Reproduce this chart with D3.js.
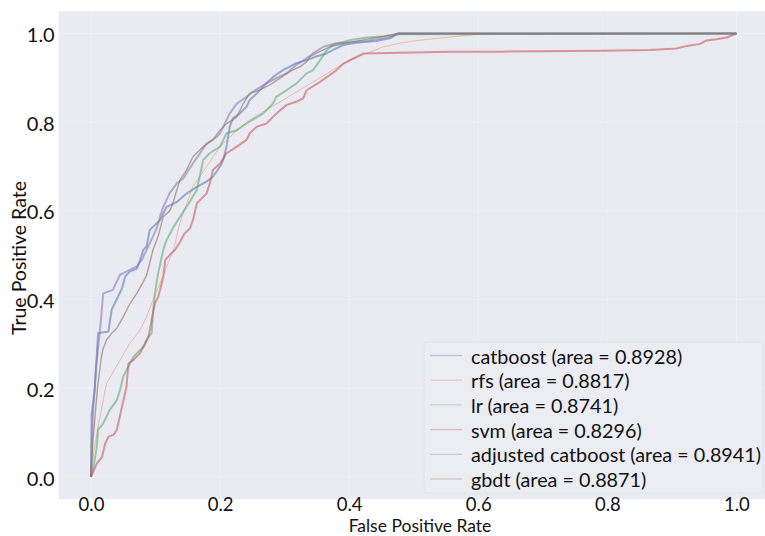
<!DOCTYPE html>
<html>
<head>
<meta charset="utf-8">
<script src="https://cdn.jsdelivr.net/npm/d3@7"></script>
<style>
  html, body { margin: 0; padding: 0; background: #ffffff; }
  svg { display: block; }
  text { font-family: Lato, "Open Sans", sans-serif; fill: #111; }
</style>
</head>
<body>
<svg id="chart" width="765" height="536"></svg>
<script>
// ---------------- data ----------------
const seriesNames = ["catboost", "rfs", "lr", "svm", "adjusted catboost", "gbdt"];
const seriesAuc = ["0.8928", "0.8817", "0.8741", "0.8296", "0.8941", "0.8871"];
const xTicks = [0.0, 0.2, 0.4, 0.6, 0.8, 1.0];
const yTicks = [0.0, 0.2, 0.4, 0.6, 0.8, 1.0];

const catboostFpr = [0, 0.001, 0.006, 0.011, 0.027, 0.032, 0.042, 0.048, 0.053, 0.060, 0.071, 0.076, 0.081, 0.086, 0.091, 0.096, 0.107, 0.117, 0.133, 0.148, 0.164, 0.179, 0.189, 0.200, 0.205, 0.210, 0.215, 0.220, 0.231, 0.241, 0.246, 0.257, 0.272, 0.283, 0.298, 0.308, 0.318, 0.334, 0.349, 0.365, 0.375, 0.391, 0.411, 0.442, 0.463, 0.476, 1.0];
const catboostTpr = [0, 0.14, 0.20, 0.324, 0.328, 0.377, 0.407, 0.425, 0.452, 0.463, 0.470, 0.489, 0.512, 0.519, 0.557, 0.564, 0.579, 0.609, 0.620, 0.639, 0.654, 0.666, 0.677, 0.700, 0.715, 0.745, 0.790, 0.809, 0.820, 0.835, 0.850, 0.865, 0.888, 0.903, 0.918, 0.925, 0.933, 0.940, 0.948, 0.955, 0.963, 0.974, 0.979, 0.983, 0.989, 1.0, 1.0];

const rfsFpr = [0, 0.004, 0.011, 0.024, 0.042, 0.060, 0.076, 0.086, 0.096, 0.107, 0.117, 0.128, 0.138, 0.158, 0.179, 0.200, 0.226, 0.246, 0.272, 0.298, 0.324, 0.349, 0.375, 0.401, 0.427, 0.453, 0.479, 0.504, 0.556, 0.600, 1.0];
const rfsTpr = [0, 0.053, 0.113, 0.211, 0.256, 0.301, 0.331, 0.361, 0.399, 0.436, 0.474, 0.512, 0.575, 0.655, 0.700, 0.745, 0.782, 0.805, 0.828, 0.850, 0.873, 0.895, 0.918, 0.940, 0.955, 0.970, 0.978, 0.984, 0.992, 0.998, 1.0];

const lrFpr = [0, 0.004, 0.009, 0.011, 0.019, 0.029, 0.040, 0.045, 0.050, 0.055, 0.066, 0.073, 0.081, 0.089, 0.094, 0.096, 0.099, 0.104, 0.112, 0.117, 0.128, 0.138, 0.148, 0.164, 0.174, 0.184, 0.200, 0.210, 0.226, 0.241, 0.267, 0.282, 0.287, 0.303, 0.318, 0.334, 0.344, 0.355, 0.365, 0.375, 0.401, 0.427, 0.453, 0.479, 1.0];
const lrTpr = [0, 0.023, 0.068, 0.106, 0.121, 0.151, 0.173, 0.196, 0.226, 0.241, 0.271, 0.282, 0.293, 0.316, 0.324, 0.369, 0.414, 0.459, 0.512, 0.534, 0.564, 0.587, 0.609, 0.647, 0.715, 0.730, 0.745, 0.775, 0.782, 0.797, 0.820, 0.842, 0.857, 0.872, 0.887, 0.910, 0.917, 0.940, 0.962, 0.974, 0.985, 0.991, 0.994, 0.998, 1.0];

const svmFpr = [0, 0.009, 0.017, 0.022, 0.027, 0.035, 0.040, 0.048, 0.055, 0.058, 0.066, 0.076, 0.084, 0.089, 0.094, 0.099, 0.104, 0.107, 0.112, 0.115, 0.122, 0.130, 0.138, 0.145, 0.153, 0.158, 0.164, 0.179, 0.184, 0.189, 0.200, 0.210, 0.226, 0.241, 0.246, 0.257, 0.272, 0.282, 0.293, 0.303, 0.318, 0.329, 0.334, 0.355, 0.370, 0.380, 0.391, 0.406, 0.422, 0.556, 0.634, 0.789, 0.866, 0.907, 0.923, 0.943, 0.953, 0.969, 0.985, 0.993, 1.0];
const svmTpr = [0, 0.030, 0.045, 0.075, 0.091, 0.095, 0.106, 0.158, 0.203, 0.256, 0.264, 0.279, 0.301, 0.316, 0.354, 0.391, 0.406, 0.421, 0.451, 0.489, 0.501, 0.512, 0.530, 0.549, 0.560, 0.579, 0.617, 0.639, 0.662, 0.692, 0.707, 0.730, 0.745, 0.760, 0.775, 0.790, 0.797, 0.812, 0.827, 0.839, 0.846, 0.854, 0.872, 0.891, 0.906, 0.917, 0.932, 0.943, 0.955, 0.959, 0.959, 0.961, 0.963, 0.966, 0.972, 0.976, 0.984, 0.987, 0.991, 0.996, 1.0];

const adjCatboostFpr = [0, 0.003, 0.008, 0.014, 0.019, 0.034, 0.045, 0.060, 0.071, 0.079, 0.086, 0.091, 0.102, 0.107, 0.112, 0.122, 0.133, 0.143, 0.148, 0.158, 0.169, 0.179, 0.195, 0.200, 0.205, 0.215, 0.226, 0.241, 0.251, 0.272, 0.287, 0.303, 0.318, 0.334, 0.344, 0.360, 0.380, 0.401, 0.427, 0.453, 0.468, 0.476, 1.0];
const adjCatboostTpr = [0, 0.14, 0.25, 0.331, 0.414, 0.422, 0.456, 0.467, 0.475, 0.490, 0.512, 0.527, 0.561, 0.587, 0.609, 0.640, 0.662, 0.673, 0.685, 0.707, 0.730, 0.752, 0.767, 0.775, 0.790, 0.820, 0.842, 0.857, 0.869, 0.888, 0.899, 0.910, 0.929, 0.944, 0.955, 0.970, 0.978, 0.980, 0.983, 0.989, 0.994, 1.0, 1.0];

const gbdtFpr = [0, 0.003, 0.010, 0.016, 0.019, 0.024, 0.032, 0.040, 0.050, 0.060, 0.071, 0.081, 0.086, 0.091, 0.096, 0.104, 0.112, 0.122, 0.127, 0.133, 0.138, 0.148, 0.158, 0.174, 0.189, 0.200, 0.210, 0.220, 0.226, 0.236, 0.246, 0.262, 0.277, 0.293, 0.303, 0.313, 0.324, 0.334, 0.339, 0.349, 0.360, 0.370, 0.400, 0.440, 0.476, 1.0];
const gbdtTpr = [0, 0.08, 0.20, 0.27, 0.290, 0.309, 0.324, 0.335, 0.361, 0.390, 0.414, 0.440, 0.455, 0.482, 0.512, 0.542, 0.587, 0.600, 0.617, 0.647, 0.670, 0.692, 0.722, 0.745, 0.760, 0.782, 0.797, 0.805, 0.812, 0.842, 0.865, 0.873, 0.884, 0.899, 0.910, 0.918, 0.925, 0.936, 0.948, 0.955, 0.963, 0.970, 0.980, 0.990, 1.0, 1.0];

// ---------------- styles ----------------
const seriesColors = ["#4C72B0", "#DD8452", "#55A868", "#C44E52", "#8172B3", "#937860"];
const seriesWidths = [2, 1, 2, 2, 2, 1.4];
const seriesOpacity = [0.55, 0.45, 0.55, 0.55, 0.55, 0.65];

const fprs = [catboostFpr, rfsFpr, lrFpr, svmFpr, adjCatboostFpr, gbdtFpr];
const tprs = [catboostTpr, rfsTpr, lrTpr, svmTpr, adjCatboostTpr, gbdtTpr];

// ---------------- layout ----------------
const svg = d3.select("#chart");
const x = d3.scaleLinear().domain([-0.05, 1.05]).range([58.7, 768.7]);
const y = d3.scaleLinear().domain([-0.05, 1.05]).range([499.2, 11.3]);

svg.append("rect")
  .attr("x", x(-0.05)).attr("y", y(1.05))
  .attr("width", x(1.05) - x(-0.05)).attr("height", y(-0.05) - y(1.05))
  .attr("fill", "#EAEAF2");

// grid (very faint, as in the reference)
svg.append("g").selectAll("line").data(xTicks).join("line")
  .attr("x1", d => x(d)).attr("x2", d => x(d))
  .attr("y1", y(1.05)).attr("y2", y(-0.05))
  .attr("stroke", "#ffffff").attr("stroke-opacity", 0.25).attr("stroke-width", 1);
svg.append("g").selectAll("line").data(yTicks).join("line")
  .attr("y1", d => y(d)).attr("y2", d => y(d))
  .attr("x1", x(-0.05)).attr("x2", x(1.05))
  .attr("stroke", "#ffffff").attr("stroke-opacity", 0.25).attr("stroke-width", 1);

// axes (text only, seaborn-like)
const xAxis = d3.axisBottom(x).tickValues(xTicks).tickFormat(d3.format(".1f")).tickSize(0).tickPadding(0);
const gx = svg.append("g").attr("transform", `translate(0, ${y(-0.05)})`).call(xAxis);
gx.select(".domain").remove();
gx.selectAll("text").attr("dy", null).attr("y", 4.6).attr("dominant-baseline", "central")
  .style("font-family", "Lato, 'Open Sans', sans-serif").style("font-size", "18.5px").attr("fill", "#111");

const yAxis = d3.axisLeft(y).tickValues(yTicks).tickFormat(d3.format(".1f")).tickSize(0).tickPadding(0);
const gy = svg.append("g").attr("transform", `translate(${x(-0.05)}, 0)`).call(yAxis);
gy.select(".domain").remove();
gy.selectAll("text").attr("dy", null).attr("x", -4).attr("dominant-baseline", "central")
  .style("font-family", "Lato, 'Open Sans', sans-serif").style("font-size", "20px").attr("fill", "#111");

// axis titles
svg.append("text").attr("x", 420).attr("y", 525).attr("text-anchor", "middle")
  .attr("dominant-baseline", "central").style("font-size", "17.5px").text("False Positive Rate");
svg.append("text").attr("transform", "translate(18, 258) rotate(-90)").attr("text-anchor", "middle")
  .attr("dominant-baseline", "central").style("font-size", "19.5px").text("True Positive Rate");

// curves
const line = d3.line().x(d => x(d[0])).y(d => y(d[1])).curve(d3.curveLinear);
svg.append("clipPath").attr("id", "clip").append("rect")
  .attr("x", x(-0.05)).attr("y", y(1.05)).attr("width", x(1.05) - x(-0.05)).attr("height", y(-0.05) - y(1.05));
const curves = svg.append("g").attr("clip-path", "url(#clip)");
seriesNames.forEach((name, i) => {
  curves.append("path")
    .datum(d3.zip(fprs[i], tprs[i]))
    .attr("d", line)
    .attr("fill", "none")
    .attr("stroke", seriesColors[i])
    .attr("stroke-width", seriesWidths[i])
    .attr("stroke-opacity", seriesOpacity[i])
    .attr("stroke-linejoin", "round");
});

// legend
const legX = 424, legY = 342, rowH = 24.7;
svg.append("rect").attr("x", legX).attr("y", legY).attr("width", 339).attr("height", 151)
  .attr("rx", 3).attr("fill", "#ECECF3").attr("stroke", "#E2E2EA").attr("stroke-width", 1);
const leg = svg.append("g");
seriesNames.forEach((name, i) => {
  const cy = legY + 13.5 + i * rowH;
  leg.append("line").attr("x1", 430).attr("x2", 462).attr("y1", cy).attr("y2", cy)
    .attr("stroke", seriesColors[i]).attr("stroke-opacity", 0.35).attr("stroke-width", 1.2);
  leg.append("text").attr("x", 471).attr("y", cy).attr("dominant-baseline", "central")
    .style("font-size", "19.8px").text(`${name} (area = ${seriesAuc[i]})`);
});
</script>
</body>
</html>
